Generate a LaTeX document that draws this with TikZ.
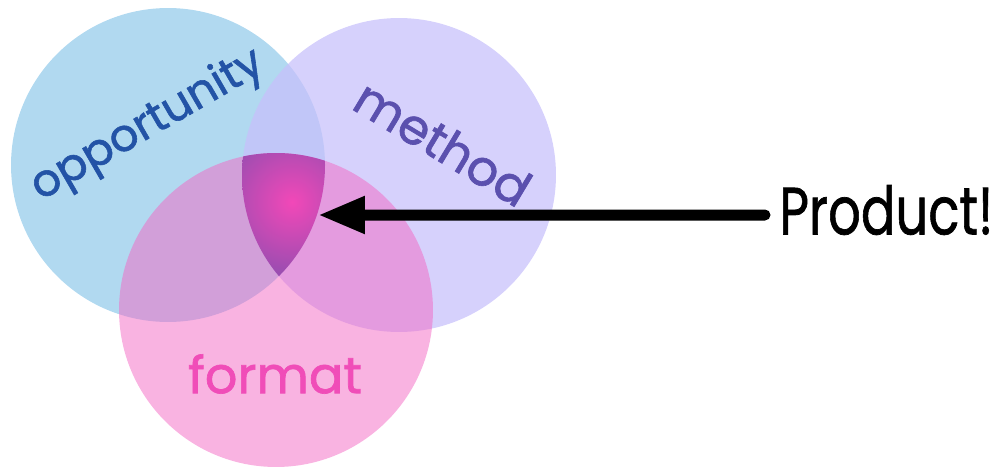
\documentclass[tikz,border=0pt]{standalone}
\usepackage{graphicx}
\usepackage{fontspec}
\setmainfont{Poppins}
\newfontfamily\lblfont{Poppins}[FakeBold=1.3]
\newfontfamily\prodfont{Poppins}[FakeBold=1.1]
\usetikzlibrary{positioning,arrows.meta}

\definecolor{oppfill}{RGB}{177,217,240}
\definecolor{methfill}{RGB}{199,192,251}
\definecolor{fmtfill}{RGB}{243,103,195}
\definecolor{opptext}{RGB}{35,83,166}
\definecolor{methtext}{RGB}{91,80,174}
\definecolor{fmttext}{RGB}{240,77,184}
\definecolor{corepink}{RGB}{242,72,184}
\definecolor{coreviolet}{RGB}{96,80,172}

\begin{document}
\begin{tikzpicture}[x=0.02cm, y=0.02cm,
    venn/.style={circle, minimum size=6.28cm, inner sep=0pt},
    lbl/.style={inner sep=0pt},
    arrow/.style={-{Triangle[length=0.94cm, width=0.7cm]}, line width=0.22cm, line cap=round}
]
\useasboundingbox (0,0) rectangle (997,-470);

% the three sets
\node[venn, fill=oppfill] (opp) at (168,-165) {};
\node[venn, fill=methfill, fill opacity=0.73] (meth) at (399,-175) {};
\node[venn, fill=fmtfill, fill opacity=0.5] (fmt) at (276,-310) {};

% where all three meet
\begin{scope}
  \clip (opp.center) circle (157);
  \clip (meth.center) circle (157);
  \clip (fmt.center) circle (157);
  \shade[inner color=corepink, outer color=coreviolet] (292,-202) circle (120);
\end{scope}

\node[lbl, text=opptext, rotate=30, font=\lblfont\fontsize{25.5}{26}\selectfont] (opplbl) at (148,-126) {opportunity};
\node[lbl, text=methtext, rotate=-31, font=\lblfont\fontsize{28}{28}\selectfont] (methlbl) at (443,-143) {method};
\node[lbl, text=fmttext, font=\lblfont\fontsize{29}{29}\selectfont] (fmtlbl) at (275,-374) {format};

\node[font=\prodfont\fontsize{38}{38}\selectfont, inner sep=0pt, anchor=west] (prod) at (779,-210) {\resizebox{4.28cm}{\height}{Product!}};
\coordinate (core) at (318,-215);

\draw[arrow] ([xshift=-0.28cm, yshift=-0.1cm]prod.west) -- (core);

\end{tikzpicture}
\end{document}
